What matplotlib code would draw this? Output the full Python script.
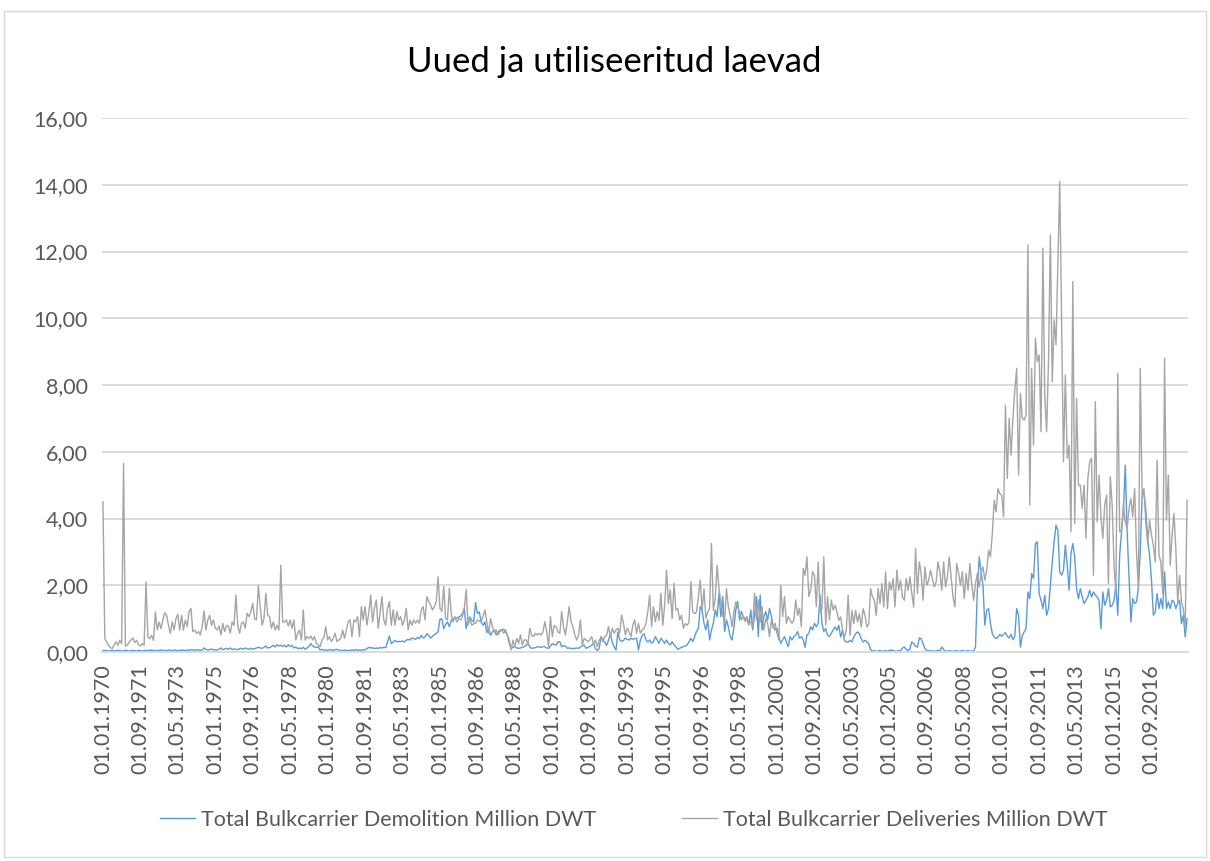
import numpy as np
import pandas as pd
import matplotlib
matplotlib.use("Agg")
import matplotlib.pyplot as plt
from matplotlib.patches import Rectangle

plt.rcParams['font.family'] = ['Lato', 'DejaVu Sans']

# monthly values, one row per year, Jan 1970 .. Apr 2018 (million DWT)
demolition = [
    0.04, 0.05, 0.04, 0.03, 0.04, 0.05, 0.03, 0.04, 0.05, 0.04, 0.03, 0.04,  # 1970
    0.05, 0.04, 0.03, 0.04, 0.05, 0.04, 0.03, 0.05, 0.04, 0.03, 0.04, 0.05,  # 1971
    0.04, 0.05, 0.06, 0.04, 0.05, 0.03, 0.05, 0.06, 0.04, 0.05, 0.04, 0.06,  # 1972
    0.05, 0.04, 0.06, 0.05, 0.04, 0.05, 0.06, 0.05, 0.04, 0.06, 0.05, 0.07,  # 1973
    0.06, 0.05, 0.07, 0.06, 0.05, 0.06, 0.12, 0.08, 0.06, 0.07, 0.09, 0.06,  # 1974
    0.07, 0.06, 0.08, 0.12, 0.07, 0.09, 0.11, 0.08, 0.12, 0.07, 0.09, 0.08,  # 1975
    0.07, 0.10, 0.11, 0.08, 0.12, 0.10, 0.08, 0.11, 0.09, 0.10, 0.12, 0.14,  # 1976
    0.12, 0.11, 0.14, 0.18, 0.12, 0.13, 0.16, 0.20, 0.15, 0.22, 0.18, 0.20,  # 1977
    0.17, 0.20, 0.15, 0.22, 0.17, 0.20, 0.12, 0.15, 0.10, 0.12, 0.10, 0.14,  # 1978
    0.08, 0.12, 0.17, 0.25, 0.18, 0.15, 0.14, 0.15, 0.06, 0.08, 0.05, 0.06,  # 1979
    0.05, 0.07, 0.06, 0.05, 0.07, 0.08, 0.06, 0.05, 0.04, 0.06, 0.05, 0.04,  # 1980
    0.05, 0.06, 0.05, 0.07, 0.05, 0.06, 0.05, 0.07, 0.06, 0.10, 0.14, 0.12,  # 1981
    0.13, 0.10, 0.12, 0.11, 0.13, 0.12, 0.14, 0.13, 0.30, 0.48, 0.25, 0.30,  # 1982
    0.35, 0.30, 0.32, 0.31, 0.33, 0.30, 0.35, 0.38, 0.36, 0.42, 0.40, 0.38,  # 1983
    0.44, 0.40, 0.50, 0.42, 0.45, 0.55, 0.50, 0.42, 0.47, 0.52, 0.55, 0.62,  # 1984
    0.98, 1.00, 0.70, 0.82, 0.90, 0.76, 0.95, 1.00, 1.00, 1.02, 1.05, 1.08,  # 1985
    1.15, 1.31, 0.70, 1.00, 1.05, 0.95, 0.90, 1.48, 1.15, 1.20, 0.90, 0.80,  # 1986
    0.90, 0.58, 0.70, 0.50, 0.60, 0.66, 0.51, 0.60, 0.65, 0.66, 0.68, 0.60,  # 1987
    0.50, 0.27, 0.10, 0.15, 0.16, 0.12, 0.11, 0.12, 0.14, 0.16, 0.20, 0.26,  # 1988
    0.15, 0.11, 0.12, 0.13, 0.16, 0.15, 0.14, 0.16, 0.16, 0.12, 0.11, 0.18,  # 1989
    0.25, 0.22, 0.21, 0.30, 0.31, 0.16, 0.19, 0.18, 0.11, 0.12, 0.11, 0.10,  # 1990
    0.11, 0.12, 0.11, 0.15, 0.18, 0.21, 0.11, 0.14, 0.16, 0.20, 0.26, 0.10,  # 1991
    0.05, 0.10, 0.46, 0.36, 0.30, 0.20, 0.35, 0.55, 0.30, 0.15, 0.06, 0.60,  # 1992
    0.36, 0.32, 0.34, 0.42, 0.38, 0.36, 0.41, 0.38, 0.40, 0.41, 0.06, 0.35,  # 1993
    0.50, 0.55, 0.36, 0.30, 0.36, 0.26, 0.31, 0.46, 0.36, 0.26, 0.41, 0.34,  # 1994
    0.26, 0.36, 0.26, 0.21, 0.31, 0.21, 0.16, 0.08, 0.11, 0.14, 0.16, 0.18,  # 1995
    0.21, 0.31, 0.41, 0.31, 0.46, 0.61, 0.71, 1.36, 1.26, 0.86, 0.66, 0.96,  # 1996
    0.36, 0.66, 0.86, 1.26, 1.06, 1.76, 1.06, 1.66, 0.61, 0.96, 0.76, 0.46,  # 1997
    0.36, 0.76, 1.26, 1.51, 0.96, 1.21, 1.06, 1.01, 0.96, 0.81, 1.26, 0.66,  # 1998
    1.11, 1.66, 0.46, 1.71, 0.66, 1.06, 1.21, 0.96, 1.31, 1.06, 0.76, 0.66,  # 1999
    0.71, 0.46, 0.26, 0.36, 0.46, 0.31, 0.16, 0.46, 0.36, 0.46, 0.51, 0.61,  # 2000
    0.41, 0.46, 0.36, 0.14, 0.51, 0.56, 0.76, 0.66, 0.86, 0.76, 0.86, 1.71,  # 2001
    0.86, 0.61, 0.71, 0.51, 0.46, 0.56, 0.66, 0.75, 0.65, 0.80, 0.45, 0.65,  # 2002
    0.35, 0.30, 0.30, 0.35, 0.30, 0.45, 0.55, 0.60, 0.55, 0.40, 0.30, 0.35,  # 2003
    0.30, 0.25, 0.07, 0.03, 0.04, 0.02, 0.03, 0.05, 0.02, 0.03, 0.04, 0.02,  # 2004
    0.05, 0.06, 0.04, 0.03, 0.02, 0.04, 0.03, 0.12, 0.15, 0.08, 0.04, 0.10,  # 2005
    0.30, 0.25, 0.17, 0.15, 0.42, 0.40, 0.25, 0.10, 0.05, 0.04, 0.03, 0.04,  # 2006
    0.02, 0.03, 0.05, 0.03, 0.15, 0.07, 0.03, 0.02, 0.04, 0.03, 0.02, 0.03,  # 2007
    0.04, 0.02, 0.03, 0.05, 0.02, 0.03, 0.04, 0.02, 0.03, 0.02, 0.15, 1.85,  # 2008
    2.85, 2.40, 2.00, 0.80, 1.25, 1.30, 0.85, 0.55, 0.45, 0.40, 0.45, 0.53,  # 2009
    0.47, 0.53, 0.58, 0.47, 0.42, 0.53, 0.37, 0.47, 1.30, 1.10, 0.15, 0.50,  # 2010
    0.60, 0.70, 1.80, 1.60, 2.35, 2.20, 3.25, 3.30, 1.75, 1.55, 1.30, 1.70,  # 2011
    1.10, 1.30, 2.00, 2.70, 3.30, 3.80, 3.65, 2.40, 2.30, 2.45, 3.20, 2.60,  # 2012
    1.85, 2.95, 3.25, 2.85, 1.90, 1.60, 1.90, 1.65, 1.45, 1.55, 1.65, 1.85,  # 2013
    1.65, 1.80, 1.70, 1.65, 1.55, 0.70, 1.80, 1.40, 1.55, 1.90, 1.35, 1.40,  # 2014
    1.55, 2.00, 1.10, 2.90, 3.60, 4.20, 5.60, 3.60, 2.25, 0.90, 1.60, 1.45,  # 2015
    1.50, 1.90, 3.00, 4.70, 4.75, 4.25, 3.30, 2.90, 2.15, 1.10, 1.20, 1.75,  # 2016
    1.30, 1.60, 1.30, 2.40, 1.30, 1.50, 1.30, 1.55, 1.50, 1.30, 1.45, 1.55,  # 2017
    0.85, 1.10, 0.45, 1.00,                                                  # 2018
]

deliveries = [
    4.50, 0.40, 0.30, 0.20, 0.13, 0.10, 0.22, 0.30, 0.20, 0.35, 0.25, 5.65,  # 1970
    0.18, 0.20, 0.30, 0.36, 0.42, 0.28, 0.35, 0.22, 0.18, 0.25, 0.20, 2.10,  # 1971
    0.45, 0.40, 0.50, 0.35, 1.20, 0.66, 0.90, 0.70, 0.96, 1.18, 1.10, 0.80,  # 1972
    0.56, 0.90, 0.66, 1.00, 1.13, 0.66, 1.10, 0.66, 0.96, 0.76, 1.21, 1.31,  # 1973
    0.61, 0.66, 0.56, 0.61, 0.51, 0.76, 1.23, 0.66, 0.96, 1.10, 0.80, 0.96,  # 1974
    0.71, 0.66, 0.78, 0.51, 0.86, 0.61, 0.80, 0.76, 0.56, 0.90, 0.80, 1.70,  # 1975
    0.80, 0.56, 0.86, 0.90, 0.71, 1.16, 1.06, 1.21, 1.46, 1.00, 0.96, 2.00,  # 1976
    1.36, 0.80, 1.00, 1.76, 1.10, 1.06, 0.71, 0.90, 0.66, 0.80, 0.66, 2.60,  # 1977
    0.90, 0.90, 0.96, 0.78, 0.96, 0.71, 0.96, 0.36, 0.56, 0.66, 0.36, 1.26,  # 1978
    0.36, 0.46, 0.41, 0.48, 0.36, 0.46, 0.26, 0.21, 0.16, 0.36, 0.44, 0.76,  # 1979
    0.36, 0.46, 0.31, 0.41, 0.56, 0.31, 0.36, 0.41, 0.66, 0.41, 0.66, 0.90,  # 1980
    0.96, 0.46, 0.96, 0.90, 1.06, 0.46, 1.36, 0.96, 1.36, 0.80, 1.18, 1.70,  # 1981
    0.90, 1.31, 1.56, 0.71, 1.16, 1.66, 0.96, 0.80, 1.31, 1.51, 0.80, 1.26,  # 1982
    0.80, 1.21, 0.96, 1.06, 0.80, 0.96, 1.31, 0.66, 0.96, 0.80, 0.96, 0.86,  # 1983
    0.96, 0.86, 1.26, 1.36, 0.96, 1.66, 1.51, 1.41, 1.26, 1.36, 1.51, 2.25,  # 1984
    1.31, 1.21, 1.96, 1.00, 0.96, 1.91, 1.16, 0.90, 1.06, 0.90, 1.00, 0.96,  # 1985
    1.06, 1.30, 1.88, 0.80, 1.00, 0.80, 0.85, 0.86, 0.96, 0.93, 0.90, 1.06,  # 1986
    1.26, 0.90, 0.56, 1.00, 0.76, 0.60, 0.66, 0.51, 0.61, 0.66, 0.56, 0.66,  # 1987
    0.50, 0.36, 0.06, 0.36, 0.16, 0.41, 0.26, 0.51, 0.21, 0.36, 0.36, 0.26,  # 1988
    0.71, 0.50, 0.46, 0.56, 0.51, 0.56, 0.51, 0.60, 0.91, 0.61, 0.16, 1.06,  # 1989
    0.46, 0.80, 0.76, 0.60, 0.56, 1.21, 0.76, 0.51, 0.90, 1.36, 0.91, 0.76,  # 1990
    0.51, 0.36, 0.50, 0.96, 0.21, 0.41, 0.36, 0.31, 0.36, 0.46, 0.24, 0.36,  # 1991
    0.16, 0.36, 0.41, 0.31, 0.46, 0.50, 0.76, 0.46, 0.71, 0.56, 0.66, 0.71,  # 1992
    0.56, 1.11, 0.86, 0.51, 0.71, 0.60, 0.46, 0.81, 0.96, 0.56, 0.86, 0.56,  # 1993
    0.66, 0.71, 0.86, 1.20, 1.70, 0.76, 1.36, 0.90, 1.21, 0.95, 1.76, 0.80,  # 1994
    1.40, 2.45, 1.45, 1.86, 1.00, 2.06, 1.26, 1.30, 0.96, 1.10, 0.71, 0.85,  # 1995
    0.80, 0.90, 2.11, 1.20, 1.15, 1.20, 1.66, 2.16, 1.26, 1.90, 1.00, 1.20,  # 1996
    1.30, 3.25, 1.25, 1.60, 2.60, 1.90, 1.50, 1.10, 0.91, 1.90, 1.36, 1.10,  # 1997
    0.76, 1.21, 1.50, 1.36, 1.21, 0.96, 1.06, 0.91, 1.06, 0.86, 0.91, 0.75,  # 1998
    1.76, 0.96, 1.56, 0.90, 1.36, 0.66, 1.00, 0.86, 0.46, 0.96, 0.71, 0.86,  # 1999
    0.56, 0.36, 2.00, 1.06, 1.66, 0.86, 1.06, 0.96, 0.86, 0.96, 1.56, 1.10,  # 2000
    1.31, 0.76, 2.50, 2.30, 2.85, 1.66, 1.86, 2.41, 2.30, 1.36, 2.70, 1.20,  # 2001
    1.30, 2.85, 0.81, 1.66, 0.96, 1.56, 1.26, 1.40, 1.20, 0.95, 1.05, 0.65,  # 2002
    0.45, 0.65, 1.70, 0.50, 1.25, 0.85, 1.25, 0.90, 1.15, 0.75, 1.30, 1.10,  # 2003
    0.75, 0.85, 1.90, 1.65, 1.55, 1.10, 1.90, 1.45, 2.05, 1.35, 2.40, 1.30,  # 2004
    2.10, 1.85, 2.20, 1.35, 2.45, 1.85, 2.15, 1.65, 1.55, 2.20, 1.85, 2.25,  # 2005
    1.75, 1.35, 3.10, 1.75, 2.70, 2.35, 1.55, 2.55, 2.00, 2.15, 2.45, 2.20,  # 2006
    1.95, 2.10, 2.70, 2.40, 1.85, 2.70, 1.95, 2.25, 2.85, 2.25, 1.65, 1.35,  # 2007
    2.65, 2.35, 2.00, 2.40, 1.60, 2.35, 1.85, 2.65, 2.05, 1.55, 2.05, 2.35,  # 2008
    1.95, 2.35, 2.55, 2.15, 2.45, 3.05, 2.85, 3.55, 4.55, 4.20, 4.90, 4.74,  # 2009
    4.70, 4.05, 7.40, 5.20, 7.00, 5.90, 7.00, 7.85, 8.50, 5.30, 7.75, 7.00,  # 2010
    6.95, 7.10, 12.20, 4.40, 8.50, 6.20, 9.40, 8.70, 8.90, 6.60, 12.10, 7.70,  # 2011
    6.60, 8.70, 12.50, 8.10, 9.95, 9.20, 11.60, 14.10, 9.95, 5.70, 8.30, 5.80,  # 2012
    6.20, 3.60, 11.10, 3.85, 7.60, 5.00, 5.00, 4.30, 5.00, 3.40, 5.20, 5.70,  # 2013
    5.80, 2.30, 7.50, 3.90, 5.30, 4.05, 3.40, 4.40, 4.70, 2.05, 5.25, 4.40,  # 2014
    2.60, 1.75, 8.35, 3.60, 3.65, 4.40, 3.90, 3.70, 4.30, 4.60, 4.05, 4.90,  # 2015
    3.00, 1.90, 8.50, 4.70, 4.90, 3.85, 3.25, 3.95, 3.50, 3.20, 2.70, 5.75,  # 2016
    2.90, 2.70, 1.75, 8.80, 3.95, 5.30, 2.60, 3.50, 4.15, 3.10, 1.50, 2.30,  # 2017
    1.50, 1.30, 0.70, 4.55,                                                  # 2018
]

months = pd.date_range('1970-01-01', periods=len(deliveries), freq='MS')
tick_every = 20
x = np.arange(len(months))

fig = plt.figure(figsize=(12.1, 8.61), dpi=100)
ax = fig.add_axes([102 / 1210, 209 / 861, 1086 / 1210, 534 / 861])

# chart frame
fig.patches.append(Rectangle((4 / 1210, 4 / 861), 1202 / 1210, 846 / 861,
                             transform=fig.transFigure, fill=False,
                             edgecolor='#d9d9d9', linewidth=1.0))

ax.plot(x, demolition, color='#5b9bd5', linewidth=1.0,
        label='Total Bulkcarrier Demolition Million DWT')
ax.plot(x, deliveries, color='#a5a5a5', linewidth=1.0,
        label='Total Bulkcarrier Deliveries Million DWT')

ax.set_xlim(-0.5, len(x) - 0.5)
ax.set_ylim(0, 16)
ax.set_yticks(np.arange(0, 17, 2))
ax.set_yticklabels([f'{v:.2f}'.replace('.', ',') for v in np.arange(0, 17, 2)])
ticks = x[::tick_every]
ax.set_xticks(ticks)
ax.set_xticklabels([months[i].strftime('%d.%m.%Y') for i in ticks], rotation=90)

ax.grid(axis='y', color='#d9d9d9', linewidth=1.3)
ax.set_axisbelow(True)
for side in ['top', 'right', 'left']:
    ax.spines[side].set_visible(False)
ax.spines['bottom'].set_color('#d9d9d9')
ax.spines['bottom'].set_linewidth(1.3)
ax.tick_params(axis='both', length=0, labelcolor='#595959', labelsize=15.5)
ax.tick_params(axis='y', pad=10)
ax.tick_params(axis='x', pad=9)

fig.text(0.508, 1 - 62 / 861, 'Uued ja utiliseeritud laevad', ha='center',
         va='center', fontsize=25, color='#000000')

fig.legend(loc='center', bbox_to_anchor=(0.524, 1 - 820 / 861), ncol=2,
           frameon=False, fontsize=15.5, labelcolor='#595959',
           handlelength=1.6, handletextpad=0.3, columnspacing=4.0)

fig.savefig('out.png', dpi=100)
